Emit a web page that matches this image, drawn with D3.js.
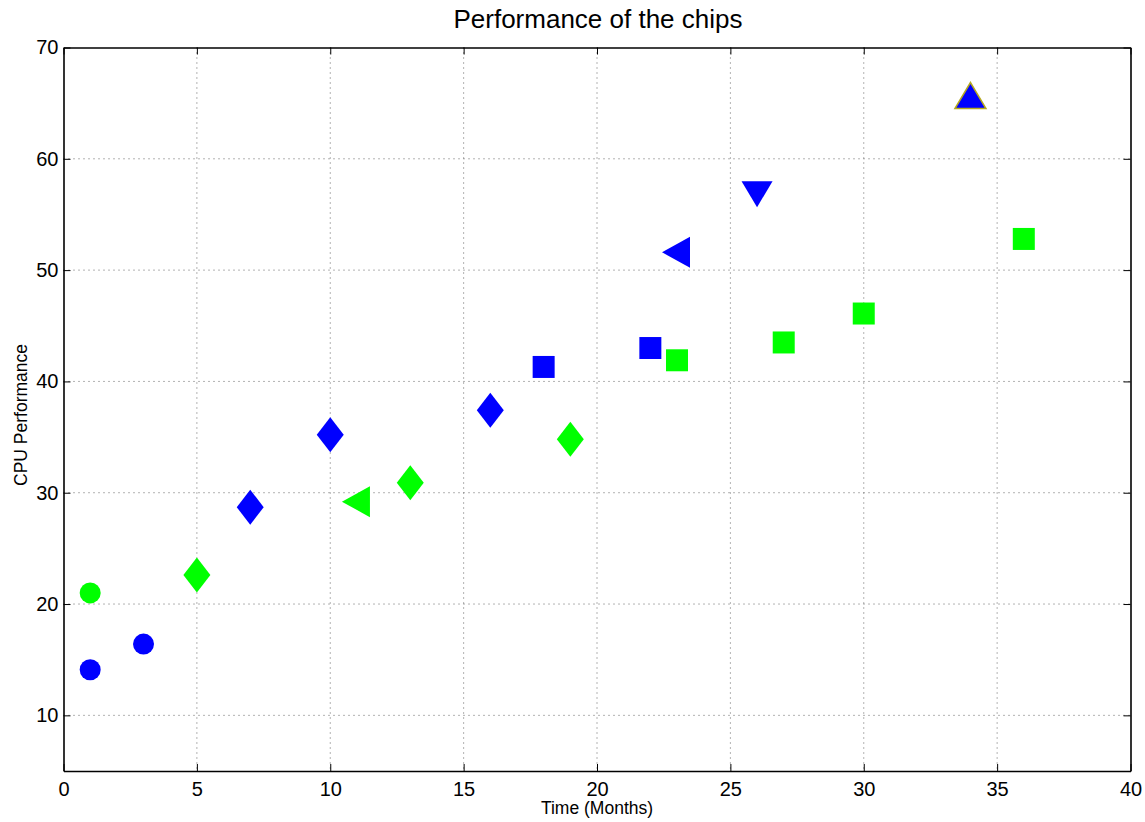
<!DOCTYPE html>
<html>
<head>
<meta charset="utf-8">
<script src="https://cdn.jsdelivr.net/npm/d3@7"></script>
<style>
  html, body { margin: 0; padding: 0; background: #fff; }
  svg { display: block; font-family: "Liberation Sans", Arial, Helvetica, sans-serif; }
</style>
</head>
<body>
<svg id="chart" width="1145" height="822"></svg>
<script>
// Chip performance over time: two vendors, marker shape per chip family
const blueMonths = [1, 3, 7, 10, 16, 18, 22, 23, 26, 34];
const bluePerf   = [14.1, 16.4, 28.7, 35.2, 37.4, 41.3, 43.0, 51.6, 57.0, 65.5];
const blueShapes = ["circle", "circle", "diamond", "diamond", "diamond", "square", "square", "left", "down", "up"];

const greenMonths = [1, 5, 11, 13, 19, 23, 27, 30, 36];
const greenPerf   = [21.0, 22.6, 29.2, 30.9, 34.8, 41.9, 43.5, 46.1, 52.8];
const greenShapes = ["circle", "diamond", "left", "diamond", "diamond", "square", "square", "square", "square"];

const xTicks = [0, 5, 10, 15, 20, 25, 30, 35, 40];
const yTicks = [10, 20, 30, 40, 50, 60, 70];

const titleText = "Performance of the chips";
const xLabel = "Time (Months)";
const yLabel = "CPU Performance";

const svg = d3.select("#chart");
const m = { left: 63.5, right: 1130.5, top: 47.5, bottom: 771 };

const x = d3.scaleLinear().domain([0, 40]).range([m.left, m.right]);
const y = d3.scaleLinear().domain([5, 70]).range([m.bottom, m.top]);

// dotted grid
const grid = svg.append("g");
grid.selectAll("line.gx").data(xTicks.slice(1, -1)).join("line")
  .attr("x1", d => x(d)).attr("x2", d => x(d))
  .attr("y1", m.top).attr("y2", m.bottom)
  .attr("stroke", "#666").attr("stroke-width", 1).attr("stroke-dasharray", "1,4");
grid.selectAll("line.gy").data(yTicks.slice(0, -1)).join("line")
  .attr("y1", d => y(d)).attr("y2", d => y(d))
  .attr("x1", m.left).attr("x2", m.right)
  .attr("stroke", "#666").attr("stroke-width", 1).attr("stroke-dasharray", "1,4");

// axes with inward ticks
const fontSize = 20;
const xAxis = svg.append("g").attr("transform", `translate(0,${m.bottom})`)
  .call(d3.axisBottom(x).tickValues(xTicks).tickSizeInner(-7).tickSizeOuter(0).tickPadding(11));
const yAxis = svg.append("g").attr("transform", `translate(${m.left},0)`)
  .call(d3.axisLeft(y).tickValues(yTicks).tickSizeInner(-7).tickSizeOuter(0).tickPadding(5));
const xTop = svg.append("g").attr("transform", `translate(0,${m.top})`)
  .call(d3.axisTop(x).tickValues(xTicks).tickSizeInner(-7).tickSizeOuter(0).tickFormat(""));
const yRight = svg.append("g").attr("transform", `translate(${m.right},0)`)
  .call(d3.axisRight(y).tickValues(yTicks).tickSizeInner(-7).tickSizeOuter(0).tickFormat(""));

[xAxis, yAxis, xTop, yRight].forEach(g => {
  g.select(".domain").attr("stroke", "#000").attr("stroke-width", 1.6);
  g.selectAll(".tick line").attr("stroke", "#000").attr("stroke-width", 1);
  g.selectAll(".tick text").attr("fill", "#000").style("font-size", fontSize + "px")
    .style("font-family", "'Liberation Sans', Arial, sans-serif");
});

// markers
function shapePath(shape, cx, cy) {
  switch (shape) {
    case "diamond": { const w = 13.5, h = 17.5;
      return `M${cx},${cy - h}L${cx + w},${cy}L${cx},${cy + h}L${cx - w},${cy}Z`; }
    case "square": { const s = 11;
      return `M${cx - s},${cy - s}H${cx + s}V${cy + s}H${cx - s}Z`; }
    case "left": { const a = 15, b = 13;
      return `M${cx - a},${cy}L${cx + b},${cy - 15.5}L${cx + b},${cy + 15.5}Z`; }
    case "down": { const a = 15.5;
      return `M${cx - a},${cy - 11}L${cx + a},${cy - 11}L${cx},${cy + 15}Z`; }
    case "up": { const a = 15.5;
      return `M${cx - a},${cy + 11}L${cx + a},${cy + 11}L${cx},${cy - 15}Z`; }
  }
}

function drawSeries(months, perf, shapes, color) {
  const data = months.map((mo, i) => ({ mo, p: perf[i], s: shapes[i] }));
  const g = svg.append("g");
  g.selectAll("circle").data(data.filter(d => d.s === "circle")).join("circle")
    .attr("cx", d => x(d.mo)).attr("cy", d => y(d.p)).attr("r", 10.5)
    .attr("fill", color);
  g.selectAll("path").data(data.filter(d => d.s !== "circle")).join("path")
    .attr("d", d => shapePath(d.s, x(d.mo), y(d.p)))
    .attr("fill", color)
    .attr("stroke", d => d.s === "up" ? "#b5a820" : "none")
    .attr("stroke-width", d => d.s === "up" ? 1.5 : 0);
}

drawSeries(greenMonths, greenPerf, greenShapes, "#00ff00");
drawSeries(blueMonths, bluePerf, blueShapes, "#0000ff");

// titles
svg.append("text").attr("x", 598).attr("y", 28)
  .attr("text-anchor", "middle").style("font-size", "26px").text(titleText);
svg.append("text").attr("x", 597).attr("y", 814)
  .attr("text-anchor", "middle").style("font-size", "17.5px").text(xLabel);
svg.append("text").attr("transform", `translate(27,415) rotate(-90)`)
  .attr("text-anchor", "middle").style("font-size", "17.5px").text(yLabel);
</script>
</body>
</html>
